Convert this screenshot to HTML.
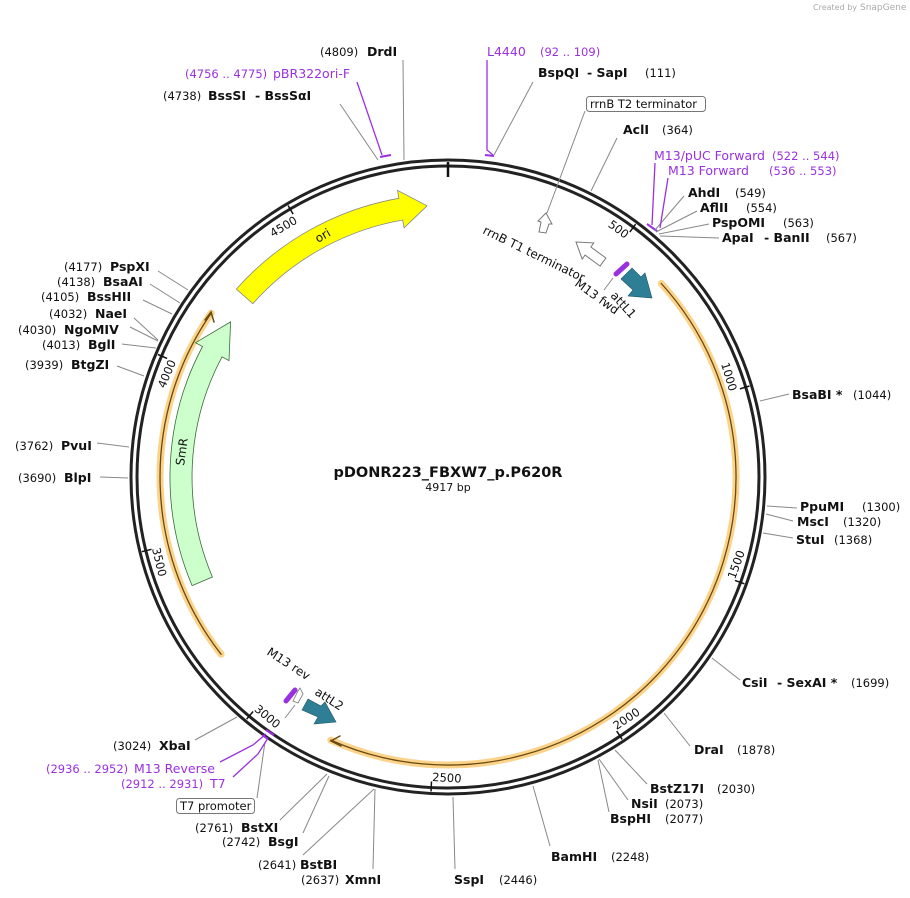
<!DOCTYPE html>
<html><head><meta charset="utf-8"><style>
html,body{margin:0;padding:0;background:#fff}
svg{display:block}
text{font-family:"DejaVu Sans","Liberation Sans",sans-serif;font-size:11.5px;fill:#111}
.b{font-weight:bold;font-size:12.5px}
.p{fill:#9b30e0;font-size:12.5px}
.pn{fill:#9b30e0;font-size:11.5px}
.l{stroke:#888;stroke-width:1;fill:none}
.pl{stroke:#9b30e0;stroke-width:1.3;fill:none}
.t{font-size:12px}
</style></head><body>
<svg width="910" height="898" viewBox="0 0 910 898" xmlns="http://www.w3.org/2000/svg">
<text x="813" y="10" style="font-size:8px;fill:#aaa">Created by</text><text x="860" y="10" style="font-size:9px;fill:#aaa">SnapGene</text>

<g fill="none" stroke-linecap="round">
<path d="M661.3,283.5 A288,288 0 0 1 330.8,740.1" stroke="#fbd38a" stroke-width="7"/>
<path d="M661.3,283.5 A288,288 0 0 1 330.8,740.1" stroke="#6b4a10" stroke-width="1.3"/>
<path d="M221.1,654.3 A288,288 0 0 1 211.2,313.1" stroke="#fbd38a" stroke-width="7"/>
<path d="M221.1,654.3 A288,288 0 0 1 211.2,313.1" stroke="#6b4a10" stroke-width="1.3"/>
<path d="M340,736 L331,741 L341,746" stroke="#6b4a10" stroke-width="1.5"/>
<path d="M205,320 L211,312 L214,322" stroke="#6b4a10" stroke-width="1.5"/>
</g>

<path d="M236.3,289.1 A283,283 0 0 1 398.9,198.3 L397.5,190.4 L427.1,205.8 L404.1,227.8 L402.7,220 A261,261 0 0 0 252.8,303.7 Z" fill="#ffff00" stroke="#888" stroke-width="0.8"/>
<text x="0" y="0" transform="translate(318,243) rotate(-30)" style="font-size:12px">ori</text>
<path d="M192.1,585.6 A278,278 0 0 1 202.5,346.5 L195.5,342.7 L230.6,321.9 L229,360.6 L222,356.8 A256,256 0 0 0 212.4,577 Z" fill="#ccffcc" stroke="#3a6b3a" stroke-width="0.8"/>
<text x="0" y="0" transform="translate(184,466) rotate(-82)" style="font-size:12px">SmR</text>

<circle cx="448" cy="477" r="317" fill="none" stroke="#222" stroke-width="3"/>
<circle cx="448" cy="477" r="311" fill="none" stroke="#222" stroke-width="3"/>
<line x1="448" y1="162" x2="448" y2="177" stroke="#111" stroke-width="2.5"/>

<g stroke="#111" stroke-width="1.5">
<line x1="629.8" y1="232.1" x2="635.6" y2="224.2"/>
<line x1="739.9" y1="388.9" x2="749.5" y2="386"/>
<line x1="735" y1="580.4" x2="744.4" y2="583.8"/>
<line x1="616.7" y1="731.1" x2="622.2" y2="739.4"/>
<line x1="431.5" y1="781.5" x2="431" y2="791.5"/>
<line x1="253.1" y1="711.5" x2="246.6" y2="719.2"/>
<line x1="151.5" y1="549.3" x2="141.8" y2="551.7"/>
<line x1="167.1" y1="358.4" x2="157.9" y2="354.5"/>
<line x1="293.1" y1="214.1" x2="288.1" y2="205.5"/>
</g>
<g style="font-size:11.5px">
<text transform="translate(631,231) rotate(36.6)" text-anchor="end" dy="10">500</text>
<text transform="translate(739,389) rotate(73.2)" text-anchor="end" dy="10">1000</text>
<text transform="translate(736,580) rotate(-70.2)" text-anchor="start" dy="-1">1500</text>
<text transform="translate(617,731) rotate(-33.6)" text-anchor="start" dy="-1">2000</text>
<text transform="translate(432,782) rotate(3.1)" text-anchor="start" dy="-1">2500</text>
<text transform="translate(253,711) rotate(39.7)" text-anchor="start" dy="-1">3000</text>
<text transform="translate(151,549) rotate(76.3)" text-anchor="start" dy="-1">3500</text>
<text transform="translate(167,358) rotate(-67.1)" text-anchor="end" dy="10">4000</text>
<text transform="translate(293,214) rotate(-30.5)" text-anchor="end" dy="10">4500</text>
</g>

<path d="M621,279 L632,268 L641,277 L645,273 L652,298 L628,296 L633,290 Z" fill="#2e7f96" stroke="#1d5566" stroke-width="0.6"/>
<line x1="616" y1="274" x2="627" y2="264" stroke="#9b30e0" stroke-width="5" stroke-linecap="round"/>
<line x1="613" y1="278" x2="604" y2="290" class="l"/>
<path d="M605.9,258 L590.9,247 L593.8,242.9 L576,242 L582.2,259.1 L585.1,255.1 L600.1,266.1 Z" fill="#fff" stroke="#777" stroke-width="1"/>
<path d="M539,232 L541,222 L538,221 L546,213 L552,224 L549,224 L546,233 Z" fill="#fff" stroke="#777" stroke-width="1"/>
<line x1="547" y1="213" x2="585" y2="111" class="l"/>
<text transform="translate(482,233) rotate(26)" class="t">rrnB T1 terminator</text>
<text transform="translate(574,285) rotate(36)" class="t">M13 fwd</text>
<text transform="translate(610,296) rotate(48)" class="t">attL1</text>

<path d="M302,710 L308,699 L321,706 L325,702 L336,722 L314,724 L318,717 Z" fill="#2e7f96" stroke="#1d5566" stroke-width="0.6"/>
<line x1="286" y1="701" x2="295" y2="690" stroke="#9b30e0" stroke-width="5" stroke-linecap="round"/>
<path d="M293,701 L298,691 L300,688 L303,694 L298,703 Z" fill="#fff" stroke="#777" stroke-width="0.8"/>
<line x1="295" y1="705" x2="285" y2="718" class="l"/>
<text transform="translate(266,654) rotate(33)" class="t">M13 rev</text>
<text transform="translate(314,694) rotate(33)" class="t">attL2</text>

<g stroke="#9b30e0" stroke-width="2" fill="none">
<path d="M380,157 L391,155"/>
<path d="M485,155 L494,156"/>
<path d="M647,224 L657,231"/>
<path d="M262,735 L268,739 M266,730 L274,735"/>
</g>

<g class="l">
<line x1="404" y1="160" x2="403" y2="60"/>
<line x1="494" y1="155" x2="533" y2="82"/>
<line x1="378" y1="160" x2="340" y2="104"/>
<line x1="591" y1="191" x2="617" y2="138"/>
<line x1="655" y1="230" x2="684" y2="196"/>
<line x1="656" y1="232" x2="697" y2="211"/>
<line x1="659" y1="234" x2="709" y2="224"/>
<line x1="660" y1="236" x2="719" y2="238"/>
<line x1="760" y1="401" x2="789" y2="394"/>
<line x1="767" y1="506" x2="797" y2="508"/>
<line x1="766" y1="514" x2="793" y2="521"/>
<line x1="763" y1="533" x2="793" y2="538"/>
<line x1="712" y1="658" x2="740" y2="680"/>
<line x1="664" y1="713" x2="690" y2="746"/>
<line x1="615" y1="750" x2="647" y2="784"/>
<line x1="599" y1="759" x2="628" y2="800"/>
<line x1="598" y1="760" x2="609" y2="812"/>
<line x1="533" y1="786" x2="550" y2="846"/>
<line x1="453" y1="797" x2="455" y2="869"/>
<line x1="375" y1="789" x2="373" y2="869"/>
<line x1="374" y1="789" x2="303" y2="855"/>
<line x1="329" y1="776" x2="303" y2="833"/>
<line x1="327" y1="774" x2="280" y2="820"/>
<line x1="237" y1="717" x2="195" y2="740"/>
<line x1="265" y1="742" x2="257" y2="798"/>
<line x1="128" y1="478" x2="100" y2="477"/>
<line x1="129" y1="447" x2="97" y2="443"/>
<line x1="144" y1="376" x2="117" y2="366"/>
<line x1="156" y1="348" x2="122" y2="344"/>
<line x1="158" y1="341" x2="130" y2="327"/>
<line x1="158" y1="340" x2="134" y2="318"/>
<line x1="172" y1="314" x2="143" y2="300"/>
<line x1="180" y1="303" x2="150" y2="284"/>
<line x1="188" y1="290" x2="158" y2="271"/>
</g>
<g class="pl">
<polyline points="357,82 382,155"/>
<polyline points="487,60 487,150 493,155"/>
<polyline points="655,163 652,225"/>
<polyline points="668,178 660,228"/>
<polyline points="220,762 253,745 266,734"/>
<polyline points="233,777 258,754 268,738"/>
</g>

<text x="320" y="56">(4809)</text><text x="367" y="56" class="b">DrdI</text>
<text x="487" y="56" class="p">L4440</text><text x="540" y="56" class="pn">(92 .. 109)</text>
<text x="538" y="77" class="b">BspQI</text><text x="587" y="77" class="b">- SapI</text><text x="645" y="77">(111)</text>
<text x="185" y="78" class="pn">(4756 .. 4775)</text><text x="273" y="78" class="p">pBR322ori-F</text>
<text x="163" y="100">(4738)</text><text x="208" y="100" class="b">BssSI</text><text x="255" y="100" class="b">- BssSαI</text>
<rect x="586.5" y="96.5" width="119" height="15" rx="3" fill="#fff" stroke="#777"/>
<text x="590" y="108" style="font-size:11.5px">rrnB T2 terminator</text>
<text x="623" y="134" class="b">AclI</text><text x="662" y="134">(364)</text>
<text x="654" y="160" class="p">M13/pUC Forward</text><text x="772" y="160" class="pn">(522 .. 544)</text>
<text x="668" y="175" class="p">M13 Forward</text><text x="769" y="175" class="pn">(536 .. 553)</text>
<text x="688" y="197" class="b">AhdI</text><text x="735" y="197">(549)</text>
<text x="700" y="212" class="b">AflII</text><text x="746" y="212">(554)</text>
<text x="712" y="227" class="b">PspOMI</text><text x="783" y="227">(563)</text>
<text x="722" y="242" class="b">ApaI</text><text x="764" y="242" class="b">- BanII</text><text x="826" y="242">(567)</text>
<text x="792" y="399" class="b">BsaBI *</text><text x="853" y="399">(1044)</text>
<text x="800" y="511" class="b">PpuMI</text><text x="862" y="511">(1300)</text>
<text x="797" y="526" class="b">MscI</text><text x="843" y="526">(1320)</text>
<text x="796" y="544" class="b">StuI</text><text x="834" y="544">(1368)</text>
<text x="742" y="687" class="b">CsiI</text><text x="777" y="687" class="b">- SexAI *</text><text x="851" y="687">(1699)</text>
<text x="694" y="754" class="b">DraI</text><text x="737" y="754">(1878)</text>
<text x="650" y="793" class="b">BstZ17I</text><text x="717" y="793">(2030)</text>
<text x="631" y="808" class="b">NsiI</text><text x="665" y="808">(2073)</text>
<text x="610" y="823" class="b">BspHI</text><text x="665" y="823">(2077)</text>
<text x="551" y="861" class="b">BamHI</text><text x="611" y="861">(2248)</text>
<text x="454" y="884" class="b">SspI</text><text x="499" y="884">(2446)</text>
<text x="301" y="884">(2637)</text><text x="345" y="884" class="b">XmnI</text>
<text x="258" y="869">(2641)</text><text x="300" y="869" class="b">BstBI</text>
<text x="222" y="846">(2742)</text><text x="268" y="846" class="b">BsgI</text>
<text x="195" y="832">(2761)</text><text x="241" y="832" class="b">BstXI</text>
<rect x="176.5" y="798.5" width="78" height="15" rx="3" fill="#fff" stroke="#777"/>
<text x="180" y="810" style="font-size:11.5px">T7 promoter</text>
<text x="121" y="788" class="pn">(2912 .. 2931)</text><text x="210" y="788" class="p">T7</text>
<text x="46" y="773" class="pn">(2936 .. 2952)</text><text x="134" y="773" class="p">M13 Reverse</text>
<text x="113" y="750">(3024)</text><text x="159" y="750" class="b">XbaI</text>
<text x="18" y="482">(3690)</text><text x="64" y="482" class="b">BlpI</text>
<text x="15" y="450">(3762)</text><text x="61" y="450" class="b">PvuI</text>
<text x="25" y="369">(3939)</text><text x="71" y="369" class="b">BtgZI</text>
<text x="42" y="349">(4013)</text><text x="88" y="349" class="b">BglI</text>
<text x="18" y="334">(4030)</text><text x="64" y="334" class="b">NgoMIV</text>
<text x="49" y="318">(4032)</text><text x="95" y="318" class="b">NaeI</text>
<text x="41" y="301">(4105)</text><text x="87" y="301" class="b">BssHII</text>
<text x="57" y="286">(4138)</text><text x="103" y="286" class="b">BsaAI</text>
<text x="64" y="271">(4177)</text><text x="110" y="271" class="b">PspXI</text>

<text x="448" y="477" text-anchor="middle" style="font-weight:bold;font-size:14.5px">pDONR223_FBXW7_p.P620R</text>
<text x="448" y="491" text-anchor="middle" style="font-size:11px">4917 bp</text>
</svg>
</body></html>
